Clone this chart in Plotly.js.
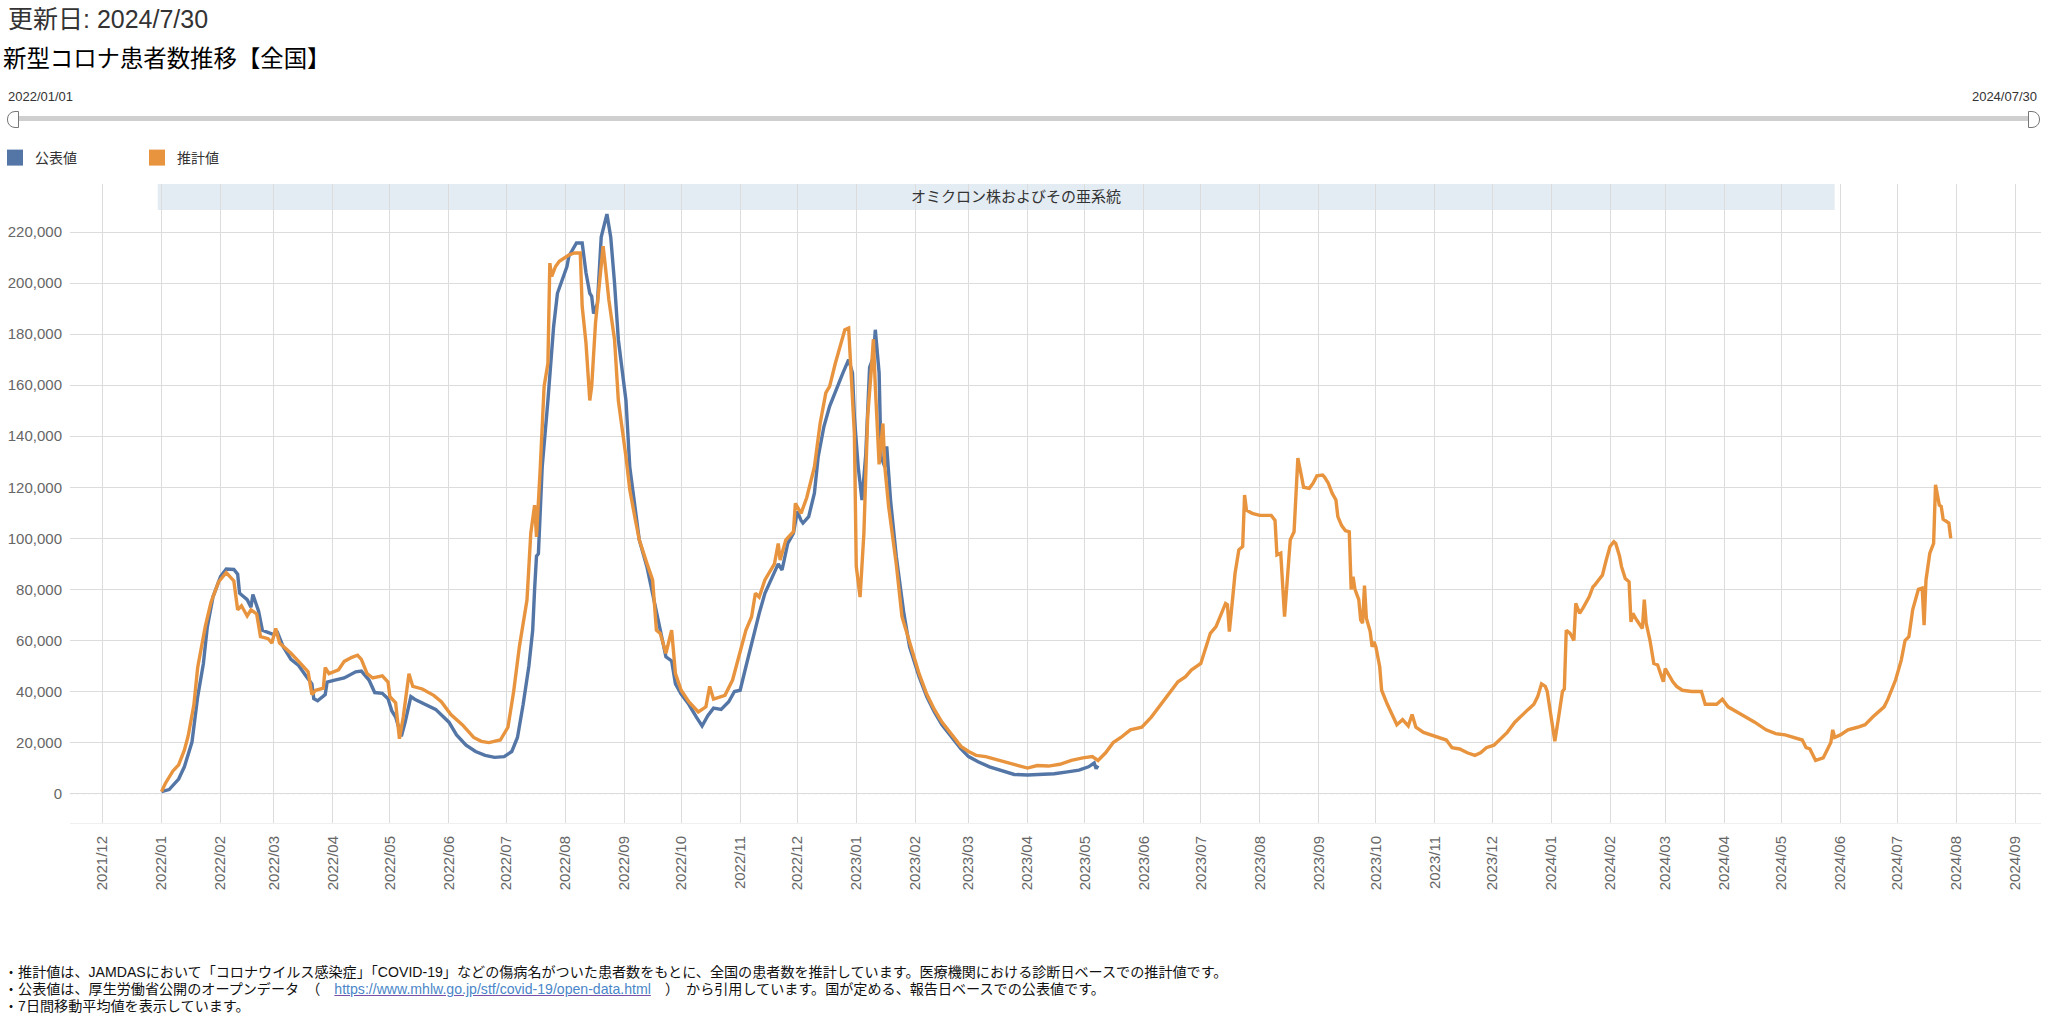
<!DOCTYPE html>
<html><head><meta charset="utf-8">
<script src="https://cdn.plot.ly/plotly-3.0.1.min.js"></script>
<style>
html,body{margin:0;padding:0;background:#fff;width:2048px;height:1035px;overflow:hidden;font-family:"Liberation Sans","Noto Sans CJK JP",sans-serif;}
#chart{position:absolute;left:0;top:0;width:2048px;height:1035px;}
.abs{position:absolute;white-space:nowrap;}
#upd{left:8px;top:4px;font-size:25px;line-height:30px;color:#333;}
#ttl{left:3px;top:44px;font-size:23.4px;line-height:30px;color:#000;}
.sl{font-size:13px;line-height:14px;color:#333;top:90px;}
#track{left:9px;top:116px;width:2028px;height:5px;background:#cfcfcf;border-radius:2px;}
.h{top:111px;width:10px;height:15px;border:1.5px solid #777;background:#fff;}
#hl{left:7px;border-radius:8px 0 0 8px;}
#hr{left:2028px;border-radius:0 8px 8px 0;}
#notes{left:4px;top:964px;font-size:14.1px;line-height:17px;color:#111;}
#notes a{color:#4a86c8;text-decoration:underline;text-decoration-color:#7a4fa8;}
</style></head>
<body>
<div id="chart"></div>
<div class="abs" id="upd">更新日: 2024/7/30</div>
<div class="abs" id="ttl">新型コロナ患者数推移【全国】</div>
<div class="abs sl" style="left:8px;">2022/01/01</div>
<div class="abs sl" style="right:11px;">2024/07/30</div>
<div class="abs" id="track"></div>
<div class="abs h" id="hl"></div>
<div class="abs h" id="hr"></div>
<div class="abs" id="notes">・推計値は、JAMDASにおいて「コロナウイルス感染症」「COVID-19」などの傷病名がついた患者数をもとに、全国の患者数を推計しています。医療機関における診断日ベースでの推計値です。<br>・公表値は、厚生労働省公開のオープンデータ　（　<a href="https://www.mhlw.go.jp/stf/covid-19/open-data.html">https://www.mhlw.go.jp/stf/covid-19/open-data.html</a>　）　から引用しています。国が定める、報告日ベースでの公表値です。<br>・7日間移動平均値を表示しています。</div>
<script>
// 公表値 (official reported values)
const blueDates = ["2022-01-01","2022-01-05","2022-01-10","2022-01-13","2022-01-17","2022-01-20","2022-01-23","2022-01-25","2022-01-28","2022-02-01","2022-02-04","2022-02-08","2022-02-10","2022-02-11","2022-02-15","2022-02-17","2022-02-18","2022-02-21","2022-02-23","2022-03-01","2022-03-03","2022-03-06","2022-03-10","2022-03-14","2022-03-18","2022-03-21","2022-03-22","2022-03-24","2022-03-28","2022-03-29","2022-04-02","2022-04-07","2022-04-13","2022-04-16","2022-04-20","2022-04-23","2022-04-27","2022-04-30","2022-05-02","2022-05-04","2022-05-07","2022-05-09","2022-05-12","2022-05-14","2022-05-18","2022-05-25","2022-06-01","2022-06-05","2022-06-10","2022-06-15","2022-06-20","2022-06-25","2022-06-30","2022-07-04","2022-07-07","2022-07-10","2022-07-13","2022-07-15","2022-07-16","2022-07-17","2022-07-18","2022-07-20","2022-07-23","2022-07-26","2022-07-28","2022-07-31","2022-08-02","2022-08-03","2022-08-06","2022-08-07","2022-08-10","2022-08-12","2022-08-14","2022-08-15","2022-08-16","2022-08-18","2022-08-20","2022-08-22","2022-08-23","2022-08-25","2022-08-27","2022-08-29","2022-09-02","2022-09-04","2022-09-07","2022-09-09","2022-09-13","2022-09-16","2022-09-20","2022-09-23","2022-09-26","2022-09-28","2022-10-01","2022-10-05","2022-10-09","2022-10-12","2022-10-15","2022-10-18","2022-10-22","2022-10-26","2022-10-29","2022-11-01","2022-11-04","2022-11-07","2022-11-11","2022-11-14","2022-11-18","2022-11-21","2022-11-23","2022-11-26","2022-11-29","2022-12-01","2022-12-03","2022-12-04","2022-12-07","2022-12-10","2022-12-12","2022-12-15","2022-12-18","2022-12-22","2022-12-25","2022-12-28","2022-12-30","2022-12-31","2023-01-02","2023-01-04","2023-01-06","2023-01-08","2023-01-10","2023-01-11","2023-01-13","2023-01-14","2023-01-16","2023-01-17","2023-01-19","2023-01-22","2023-01-26","2023-01-29","2023-02-03","2023-02-07","2023-02-11","2023-02-15","2023-02-20","2023-02-25","2023-03-01","2023-03-06","2023-03-12","2023-03-18","2023-03-25","2023-04-01","2023-04-08","2023-04-15","2023-04-22","2023-04-28","2023-05-03","2023-05-06","2023-05-07","2023-05-08"];
const blueValues = [800,1600,5700,10500,20200,38000,51000,65000,77000,85000,88000,87800,86000,78500,76000,73000,78000,71500,64000,62300,63000,57400,52600,50200,46000,43000,37200,36400,38800,43700,44500,45300,47700,48000,44500,39600,39300,37200,32400,30000,22500,28000,38000,37000,35500,33000,28000,23000,19000,16500,15000,14200,14500,16500,22000,35000,50000,64000,80000,93000,94000,128000,154000,183000,196000,202600,206500,210500,214400,215700,215700,204000,196000,194800,188000,192000,218000,223500,227000,218000,200000,177800,154000,128000,111000,99400,88900,78500,64000,53600,52000,43000,39000,35000,30000,26500,30500,33500,33000,36000,40000,40500,49700,59000,70600,78500,85000,90000,87600,98000,102000,110500,107000,106000,108500,117700,132000,143800,151700,159500,164800,170000,164800,147700,128000,115000,133000,167000,171000,181700,164800,132000,128000,136000,115000,93000,70600,57500,45800,38000,32000,27000,22000,17500,14500,12500,10500,9000,7500,7300,7400,7800,8500,9200,10500,12000,9800,11000];

// 推計値 (estimated values)
const orangeDates = ["2022-01-01","2022-01-03","2022-01-07","2022-01-10","2022-01-13","2022-01-15","2022-01-18","2022-01-20","2022-01-24","2022-01-27","2022-01-31","2022-02-04","2022-02-08","2022-02-10","2022-02-12","2022-02-15","2022-02-17","2022-02-20","2022-02-22","2022-02-26","2022-02-28","2022-03-02","2022-03-04","2022-03-10","2022-03-15","2022-03-19","2022-03-21","2022-03-23","2022-03-27","2022-03-28","2022-03-30","2022-04-04","2022-04-07","2022-04-11","2022-04-14","2022-04-16","2022-04-19","2022-04-22","2022-04-27","2022-04-30","2022-05-01","2022-05-04","2022-05-06","2022-05-08","2022-05-11","2022-05-13","2022-05-18","2022-05-24","2022-05-28","2022-06-02","2022-06-08","2022-06-14","2022-06-18","2022-06-22","2022-06-28","2022-07-02","2022-07-05","2022-07-08","2022-07-12","2022-07-14","2022-07-16","2022-07-17","2022-07-19","2022-07-21","2022-07-23","2022-07-24","2022-07-25","2022-07-27","2022-07-29","2022-08-01","2022-08-03","2022-08-06","2022-08-09","2022-08-10","2022-08-12","2022-08-14","2022-08-15","2022-08-17","2022-08-19","2022-08-21","2022-08-22","2022-08-24","2022-08-27","2022-08-29","2022-09-02","2022-09-04","2022-09-07","2022-09-09","2022-09-13","2022-09-16","2022-09-18","2022-09-20","2022-09-23","2022-09-26","2022-09-28","2022-10-01","2022-10-05","2022-10-10","2022-10-14","2022-10-16","2022-10-18","2022-10-24","2022-10-28","2022-11-01","2022-11-04","2022-11-07","2022-11-09","2022-11-11","2022-11-14","2022-11-19","2022-11-21","2022-11-22","2022-11-25","2022-11-29","2022-11-30","2022-12-03","2022-12-06","2022-12-10","2022-12-13","2022-12-16","2022-12-18","2022-12-21","2022-12-24","2022-12-26","2022-12-28","2022-12-29","2022-12-31","2023-01-01","2023-01-03","2023-01-05","2023-01-07","2023-01-09","2023-01-10","2023-01-11","2023-01-13","2023-01-15","2023-01-16","2023-01-18","2023-01-22","2023-01-25","2023-01-30","2023-02-03","2023-02-07","2023-02-11","2023-02-15","2023-02-20","2023-02-25","2023-03-01","2023-03-05","2023-03-10","2023-03-15","2023-03-20","2023-03-27","2023-04-01","2023-04-06","2023-04-12","2023-04-18","2023-04-24","2023-04-30","2023-05-05","2023-05-08","2023-05-12","2023-05-16","2023-05-20","2023-05-25","2023-05-31","2023-06-05","2023-06-10","2023-06-16","2023-06-19","2023-06-23","2023-06-26","2023-07-01","2023-07-04","2023-07-06","2023-07-09","2023-07-11","2023-07-14","2023-07-15","2023-07-16","2023-07-18","2023-07-19","2023-07-21","2023-07-23","2023-07-24","2023-07-25","2023-07-28","2023-08-01","2023-08-07","2023-08-09","2023-08-10","2023-08-12","2023-08-14","2023-08-17","2023-08-19","2023-08-20","2023-08-21","2023-08-23","2023-08-24","2023-08-27","2023-08-29","2023-08-31","2023-09-03","2023-09-04","2023-09-06","2023-09-08","2023-09-10","2023-09-11","2023-09-13","2023-09-15","2023-09-17","2023-09-18","2023-09-19","2023-09-20","2023-09-22","2023-09-23","2023-09-24","2023-09-25","2023-09-26","2023-09-28","2023-09-29","2023-09-30","2023-10-01","2023-10-03","2023-10-04","2023-10-07","2023-10-10","2023-10-12","2023-10-15","2023-10-18","2023-10-20","2023-10-22","2023-10-26","2023-10-30","2023-11-03","2023-11-07","2023-11-10","2023-11-14","2023-11-18","2023-11-22","2023-11-25","2023-11-28","2023-12-02","2023-12-05","2023-12-09","2023-12-13","2023-12-17","2023-12-20","2023-12-23","2023-12-25","2023-12-27","2023-12-29","2023-12-30","2024-01-01","2024-01-03","2024-01-05","2024-01-07","2024-01-08","2024-01-09","2024-01-11","2024-01-13","2024-01-14","2024-01-16","2024-01-18","2024-01-20","2024-01-21","2024-01-23","2024-01-24","2024-01-26","2024-01-28","2024-01-30","2024-02-01","2024-02-03","2024-02-04","2024-02-06","2024-02-07","2024-02-09","2024-02-11","2024-02-12","2024-02-13","2024-02-15","2024-02-17","2024-02-18","2024-02-19","2024-02-20","2024-02-22","2024-02-24","2024-02-26","2024-02-28","2024-02-29","2024-03-01","2024-03-03","2024-03-05","2024-03-07","2024-03-10","2024-03-15","2024-03-20","2024-03-22","2024-03-28","2024-03-31","2024-04-03","2024-04-10","2024-04-17","2024-04-23","2024-04-28","2024-05-03","2024-05-08","2024-05-12","2024-05-14","2024-05-16","2024-05-19","2024-05-23","2024-05-25","2024-05-27","2024-05-28","2024-05-29","2024-06-01","2024-06-05","2024-06-10","2024-06-14","2024-06-18","2024-06-21","2024-06-24","2024-06-26","2024-06-28","2024-06-30","2024-07-03","2024-07-05","2024-07-07","2024-07-09","2024-07-12","2024-07-14","2024-07-15","2024-07-16","2024-07-18","2024-07-20","2024-07-21","2024-07-23","2024-07-24","2024-07-25","2024-07-28","2024-07-29"];
const orangeValues = [800,4000,8900,11300,17000,22600,34800,49400,65500,75000,83000,86600,83300,72000,73600,69600,72000,70400,61500,60700,59000,64700,59000,55000,51000,47700,38800,40500,41300,49400,47000,48500,51800,53400,54200,52600,47000,45300,46100,43700,38000,35600,21500,30000,47000,42000,41000,38500,36000,31000,27000,22000,20500,20000,21000,26000,40000,57500,75800,102000,113000,100600,128000,159500,168600,207800,202600,206500,208500,209800,211000,211800,211800,190900,176500,154000,159500,184300,200000,214400,207800,193500,177800,154000,132000,119000,107000,99400,90200,83700,64000,62800,55000,64000,47000,40500,36000,32000,34000,42000,37000,38500,44500,56000,64000,69300,78500,77000,83700,90000,98000,91500,99400,102600,113700,109800,116000,128000,145000,157000,159500,168600,176500,181700,182400,170000,141000,89000,77000,102000,148000,167000,178000,159500,129000,145000,128000,112500,90000,69300,57500,47000,39000,33000,28000,23000,18500,16500,15000,14500,13500,12500,11000,10000,11000,10800,11500,13000,14000,14500,13000,16000,20000,22000,25000,26000,30000,35000,40500,43800,45800,48400,51000,57500,62800,65400,69300,74500,74000,63500,78500,86300,95500,96800,117000,111000,109800,109000,109000,107000,93500,94200,69300,99400,102600,119000,131400,124000,120000,119600,121600,124500,124800,124000,121600,117700,115000,108500,105000,103000,102600,80000,85000,80000,76000,68000,66800,81500,68700,63500,57500,59500,57500,49700,40500,35000,30000,27000,29000,26500,31000,26000,24000,23000,22000,21000,18000,17500,16000,15000,16000,18000,19000,21000,24000,28000,31000,33000,35000,38000,43000,42000,40000,30000,20500,30000,40000,41000,64000,62800,60000,74500,70600,73000,76000,77000,81000,81700,83700,85600,91500,96800,98700,98000,93000,89000,84300,83000,67300,70600,68000,65400,64700,76000,66700,60000,51000,50400,45800,43800,49000,46400,43800,42000,40500,40000,40000,35000,35000,37000,34000,31000,28000,25000,23500,23000,22000,21000,18000,17500,13000,14000,17000,20000,25000,22000,23000,25000,26000,27000,30000,32000,34000,37000,40500,44500,52300,60000,61500,72000,80000,80500,66000,83700,94200,98000,121000,113000,112500,107500,106000,100000];

const seriesNames = ["公表値","推計値"];
const seriesColors = ["#5476a6","#e8943f"];
const bandLabel = "オミクロン株およびその亜系統";
const bandStart = "2021-12-30", bandEnd = "2024-05-29";

const W=2048,H=1035,L=70,R=7,T=184,B=212;
const PW=W-L-R, PH=H-T-B;
const px2x = p => (p-L)/PW;
const px2y = p => (H-B-p)/PH;

const traces = [
  {x:[null], y:[null], type:'scatter', mode:'markers', name:seriesNames[0], marker:{symbol:'square', size:16, color:seriesColors[0]}, showlegend:true},
  {x:[null], y:[null], type:'scatter', mode:'markers', name:seriesNames[1], marker:{symbol:'square', size:16, color:seriesColors[1]}, showlegend:true},
  {x: blueDates, y: blueValues, type:'scatter', mode:'lines', name:seriesNames[0], line:{color:seriesColors[0], width:3.4}, showlegend:false},
  {x: orangeDates, y: orangeValues, type:'scatter', mode:'lines', name:seriesNames[1], line:{color:seriesColors[1], width:3.4}, showlegend:false}
];

const layout = {
  width:W, height:H,
  margin:{l:L, r:R, t:T, b:B, pad:0, autoexpand:false},
  paper_bgcolor:'#fff', plot_bgcolor:'#fff',
  font:{family:'"Liberation Sans","Noto Sans CJK JP",sans-serif', size:14, color:'#666'},
  showlegend:true,
  legend:{orientation:'h', x:px2x(-5), xanchor:'left', y:px2y(158), yanchor:'middle',
          font:{size:14, color:'#333'}, entrywidth:97, entrywidthmode:'pixels', itemclick:false, bgcolor:'rgba(0,0,0,0)'},
  xaxis:{type:'date', range:['2021-11-13 22:00','2024-09-14 10:00'], dtick:'M1', tick0:'2021-12-01', tickformat:'%Y/%m',
         tickangle:-90, showgrid:true, gridcolor:'#dcdcdc', gridwidth:1, zeroline:false, showline:true, linecolor:'#f0f0f0',
         ticks:'', ticklabelstandoff:6, tickfont:{size:15, color:'#666'}, fixedrange:true},
  yaxis:{range:[-11500,238800], dtick:20000, tick0:0, tickformat:',d', showgrid:true, gridcolor:'#dcdcdc', gridwidth:1,
         zeroline:false, showline:false, ticks:'', ticklabelstandoff:7, tickfont:{size:15, color:'#666'}, fixedrange:true},
  shapes:[
    {type:'rect', xref:'x', yref:'paper', x0:bandStart, x1:bandEnd, y0:px2y(210), y1:1, fillcolor:'#e3ebf3', line:{width:0}, layer:'below'},
    {type:'line', xref:'paper', yref:'y', x0:0, x1:1, y0:0, y1:0, line:{color:'#c8c8c8', width:1, dash:'dot'}, layer:'below'}
  ],
  annotations:[
    {text:bandLabel, xref:'x', yref:'paper', x:'2023-03-26', y:px2y(197), xanchor:'center', yanchor:'middle', showarrow:false, font:{size:15, color:'#333'}}
  ]
};
Plotly.newPlot('chart', traces, layout, {displayModeBar:false, staticPlot:true});
</script>
</body></html>
